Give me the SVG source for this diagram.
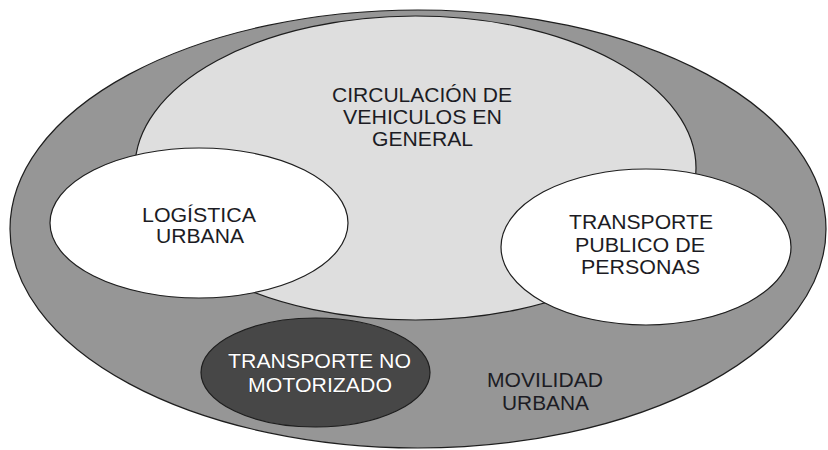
<svg xmlns="http://www.w3.org/2000/svg" width="828" height="450" viewBox="0 0 828 450">
  <style>
    .shape { stroke: #1e1e1e; stroke-width: 1.2; }
    .lbl { font-family: "Liberation Sans", Arial, sans-serif; font-size: 20px; fill: #1c1c24; }
    .lbl-w { font-family: "Liberation Sans", Arial, sans-serif; font-size: 20px; fill: #ffffff; stroke: #202020; stroke-width: 0.4; paint-order: stroke; }
  </style>
  <rect width="828" height="450" fill="#ffffff"/>
  <g id="movilidad-urbana">
    <ellipse class="shape" cx="418" cy="229" rx="408" ry="219" fill="#969696"/>
    <text class="lbl" x="487" y="387" textLength="116" lengthAdjust="spacingAndGlyphs">MOVILIDAD</text>
    <text class="lbl" x="502" y="410" textLength="87" lengthAdjust="spacingAndGlyphs">URBANA</text>
  </g>
  <g id="circulacion-vehiculos">
    <ellipse class="shape" cx="415.5" cy="168" rx="280.5" ry="152" fill="#dedede"/>
    <text class="lbl" x="332" y="102" textLength="180" lengthAdjust="spacingAndGlyphs">CIRCULACIÓN DE</text>
    <text class="lbl" x="343" y="124" textLength="159" lengthAdjust="spacingAndGlyphs">VEHICULOS EN</text>
    <text class="lbl" x="372" y="146" textLength="101" lengthAdjust="spacingAndGlyphs">GENERAL</text>
  </g>
  <g id="logistica-urbana">
    <ellipse class="shape" cx="199" cy="223" rx="149" ry="75" fill="#ffffff"/>
    <text class="lbl" x="142" y="222" textLength="114" lengthAdjust="spacingAndGlyphs">LOGÍSTICA</text>
    <text class="lbl" x="156" y="243" textLength="88" lengthAdjust="spacingAndGlyphs">URBANA</text>
  </g>
  <g id="transporte-publico">
    <ellipse class="shape" cx="646" cy="247" rx="145" ry="78" fill="#ffffff"/>
    <text class="lbl" x="569" y="229" textLength="144" lengthAdjust="spacingAndGlyphs">TRANSPORTE</text>
    <text class="lbl" x="575" y="252" textLength="130" lengthAdjust="spacingAndGlyphs">PUBLICO DE</text>
    <text class="lbl" x="581" y="274" textLength="119" lengthAdjust="spacingAndGlyphs">PERSONAS</text>
  </g>
  <g id="transporte-no-motorizado">
    <ellipse class="shape" cx="315.5" cy="372.5" rx="114.5" ry="54.5" fill="#474747"/>
    <text class="lbl-w" x="228" y="368" textLength="183" lengthAdjust="spacingAndGlyphs">TRANSPORTE NO</text>
    <text class="lbl-w" x="248" y="392" textLength="144" lengthAdjust="spacingAndGlyphs">MOTORIZADO</text>
  </g>
</svg>
